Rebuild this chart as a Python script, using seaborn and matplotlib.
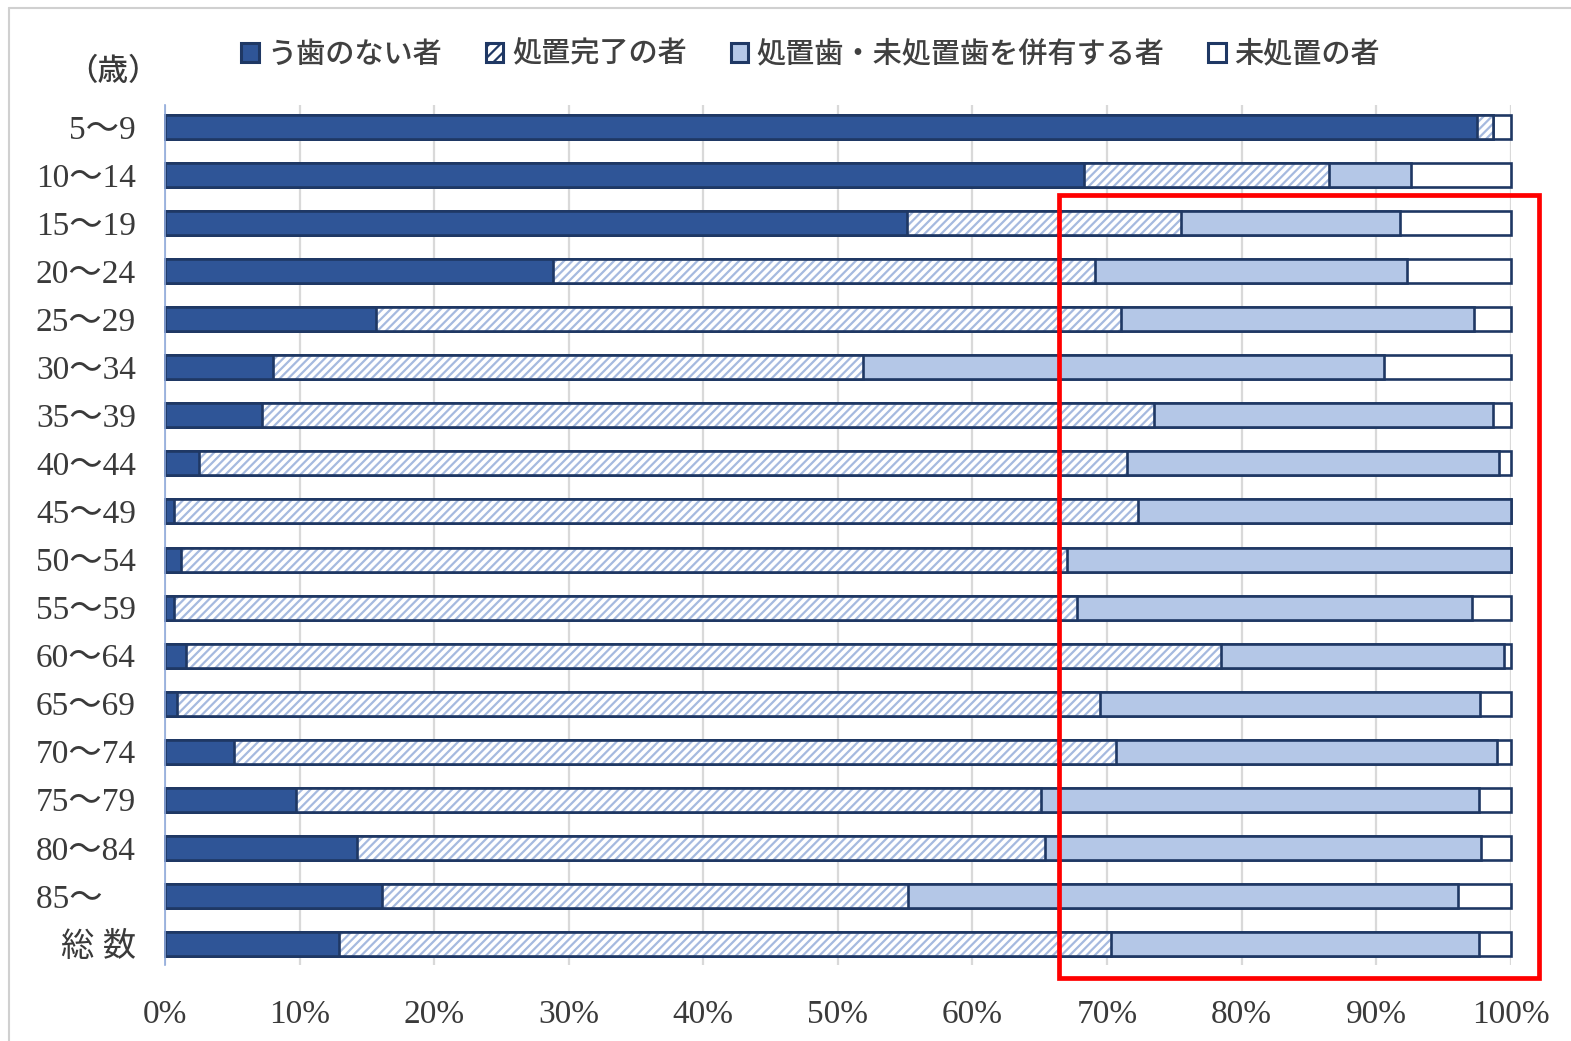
import matplotlib
matplotlib.use("Agg")
import matplotlib.pyplot as plt
from matplotlib.patches import Patch, Rectangle
from matplotlib.lines import Line2D
import numpy as np
import pandas as pd
import seaborn as sns

# Age groups (row labels, top to bottom)
ages = ["5～9", "10～14", "15～19", "20～24", "25～29", "30～34", "35～39",
        "40～44", "45～49", "50～54", "55～59", "60～64", "65～69", "70～74",
        "75～79", "80～84", "85～　", "総 数"]

# Share of people (%) in each dental-caries status group
no_caries = [97.5, 68.3, 55.1, 28.8, 15.7, 8.0, 7.2, 2.5, 0.7, 1.2, 0.7, 1.6,
             0.9, 5.1, 9.7, 14.3, 16.1, 12.9]
treated = [1.2, 18.2, 20.4, 40.3, 55.3, 43.9, 66.3, 69.0, 71.6, 65.8, 67.1,
           76.9, 68.6, 65.6, 55.4, 51.1, 39.1, 57.4]
mixed = [0.0, 6.1, 16.3, 23.2, 26.3, 38.7, 25.2, 27.6, 27.7, 33.0, 29.3, 21.0,
         28.2, 28.3, 32.5, 32.4, 40.9, 27.3]
untreated = [1.3, 7.4, 8.2, 7.7, 2.7, 9.4, 1.3, 0.9, 0.0, 0.0, 2.9, 0.5, 2.3,
             1.0, 2.4, 2.2, 3.9, 2.4]

legend_labels = ["う歯のない者", "処置完了の者", "処置歯・未処置歯を併有する者", "未処置の者"]
x_ticks = list(range(0, 101, 10))
x_tick_labels = [f"{v}%" for v in x_ticks]

DARK = "#2f5597"
LIGHT = "#b4c7e7"
EDGE = "#1f3864"
HATCH = "#a6badf"
TEXT = "#3a3a3a"
BAR_LW = 1.9

sns.set_theme(style="white")
plt.rcParams["font.family"] = ["Liberation Serif", "Noto Sans CJK JP"]
plt.rcParams["hatch.linewidth"] = 1.6

df = pd.DataFrame({"age": ages})
c1 = np.array(no_caries)
c2 = c1 + np.array(treated)
c3 = c2 + np.array(mixed)
c4 = c3 + np.array(untreated)
df["c1"], df["c2"], df["c3"], df["c4"] = c1, c2, c3, c4

fig = plt.figure(figsize=(15.71, 10.41), dpi=100)
ax = fig.add_axes([0.105, 0.073, 0.8567, 0.8261])

common = dict(data=df, y="age", orient="h", order=ages, width=0.5,
              errorbar=None, saturation=1, ax=ax)

# Cumulative layers drawn from the full bar down to the first segment
sns.barplot(x="c4", color="white", edgecolor=EDGE, linewidth=BAR_LW, **common)
sns.barplot(x="c3", color=LIGHT, edgecolor=EDGE, linewidth=BAR_LW, **common)
sns.barplot(x="c2", color="white", edgecolor=HATCH, linewidth=0, hatch="////", **common)
sns.barplot(x="c2", color=EDGE, fill=False, linewidth=BAR_LW, **common)
sns.barplot(x="c1", color=DARK, edgecolor=EDGE, linewidth=BAR_LW, **common)

for p in ax.patches:
    p.set_clip_on(False)

ax.set_xlim(0, 100)
ax.set_ylim(17.44, -0.46)
ax.set_xticks(x_ticks)
ax.set_xticklabels(x_tick_labels)
ax.set_xlabel("")
ax.set_ylabel("")
ax.tick_params(axis="x", length=0, pad=25, labelsize=24, labelcolor=TEXT)
ax.tick_params(axis="y", length=0, pad=21, labelsize=24, labelcolor=TEXT)

ax.grid(axis="x", color="#d9d9d9", linewidth=1.6)
ax.grid(axis="y", visible=False)
ax.set_axisbelow(True)
for side in ["top", "right", "bottom"]:
    ax.spines[side].set_visible(False)
ax.spines["left"].set_color("#8faadc")
ax.spines["left"].set_linewidth(1.2)
ax.spines["left"].set_zorder(5)

# Highlight box around the right-hand part of the rows from 15～19 down
ax.add_patch(Rectangle((66.4, 1.42), 35.7, 16.29, fill=False, edgecolor="#ff0000",
                       linewidth=3.4, clip_on=False, zorder=10))

handles = [
    Patch(facecolor=DARK, edgecolor=EDGE, linewidth=2.2),
    Patch(facecolor="white", edgecolor=EDGE, linewidth=2.2, hatch="///"),
    Patch(facecolor=LIGHT, edgecolor=EDGE, linewidth=2.2),
    Patch(facecolor="white", edgecolor=EDGE, linewidth=2.2),
]
leg = fig.legend(handles, legend_labels, loc="center", bbox_to_anchor=(0.516, 0.948),
                 ncol=4, frameon=False, handlelength=0.6, handleheight=0.6,
                 handletextpad=0.3, columnspacing=1.5,
                 prop={"family": ["Noto Sans CJK JP"], "size": 21, "weight": "medium"})
for t in leg.get_texts():
    t.set_color("#404040")

fig.text(0.072, 0.931, "（歳）", ha="center", va="center", fontsize=22,
         color=TEXT, family=["Noto Sans CJK JP"], weight="medium")

# Light frame around the chart area
fx, fy = 9 / 1571, 1 - 8 / 1041
fig.add_artist(Line2D([fx, fx], [0, fy], color="#d0d0d0", linewidth=1.5))
fig.add_artist(Line2D([fx, 1], [fy, fy], color="#d0d0d0", linewidth=1.5))

fig.savefig("out.png", dpi=100)
